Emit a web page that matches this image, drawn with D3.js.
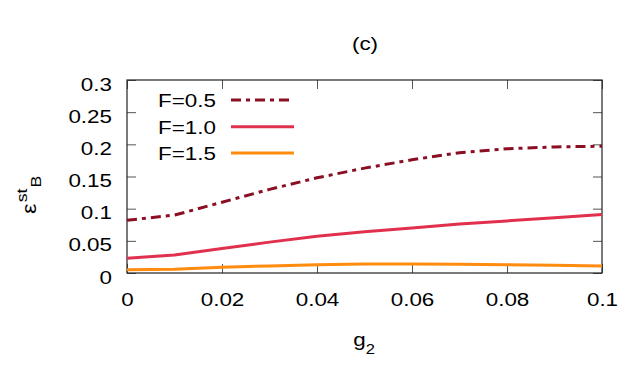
<!DOCTYPE html>
<html><head><meta charset="utf-8">
<script src="https://cdn.jsdelivr.net/npm/d3@7"></script>
<style>body{margin:0;background:#fff;} text{font-family:"Liberation Sans",Arial,sans-serif;}</style>
</head><body>
<svg id="c" width="643" height="386"></svg>
<script>
const g2 = [0, 0.01, 0.02, 0.03, 0.04, 0.05, 0.06, 0.07, 0.08, 0.09, 0.1];
const eF05 = [0.082, 0.090, 0.110, 0.130, 0.148, 0.163, 0.176, 0.187, 0.193, 0.196, 0.197];
const eF10 = [0.023, 0.028, 0.038, 0.048, 0.057, 0.064, 0.070, 0.076, 0.081, 0.086, 0.091];
const eF15 = [0.005, 0.006, 0.009, 0.011, 0.013, 0.014, 0.014, 0.0135, 0.013, 0.012, 0.011];
const seriesNames = ["F=0.5", "F=1.0", "F=1.5"];
const xTicks = [0, 0.02, 0.04, 0.06, 0.08, 0.1];
const xTickLabels = ["0", "0.02", "0.04", "0.06", "0.08", "0.1"];
const yTicks = [0, 0.05, 0.1, 0.15, 0.2, 0.25, 0.3];
const yTickLabels = ["0", "0.05", "0.1", "0.15", "0.2", "0.25", "0.3"];

const svg = d3.select("#c");
const L = 127, R = 602, T = 80, B = 273;
const x = d3.scaleLinear().domain([0, 0.1]).range([L, R]);
const y = d3.scaleLinear().domain([0, 0.3]).range([B, T]);
const axisColor = "#222";
const fs = 19, sx = 1.18;
const tl = 9;

const gx = svg.append("g").attr("transform", `translate(0,${B})`)
  .call(d3.axisBottom(x).tickValues(xTicks).tickFormat((d,i)=>xTickLabels[i]).tickSizeInner(-tl).tickSizeOuter(0).tickPadding(20));
const gxt = svg.append("g").attr("transform", `translate(0,${T})`)
  .call(d3.axisTop(x).tickValues(xTicks).tickFormat("").tickSizeInner(-tl).tickSizeOuter(0));
const gy = svg.append("g").attr("transform", `translate(${L},0)`)
  .call(d3.axisLeft(y).tickValues(yTicks).tickFormat((d,i)=>yTickLabels[i]).tickSizeInner(-tl).tickSizeOuter(0).tickPadding(15));
const gyr = svg.append("g").attr("transform", `translate(${R},0)`)
  .call(d3.axisRight(y).tickValues(yTicks).tickFormat("").tickSizeInner(-tl).tickSizeOuter(0));
[gx, gxt, gy, gyr].forEach(g => {
  g.select(".domain").remove();
  g.selectAll("line").attr("stroke", "#555").attr("stroke-width", 1);
  g.selectAll("text").attr("font-size", fs).attr("fill", "#000").style("font-family", '"Liberation Sans", Arial, sans-serif');
});
gy.selectAll("text").attr("x", -15/sx).attr("dy", 10).attr("transform", `scale(${sx},1)`);
gx.selectAll("text").attr("transform", `scale(${sx},1)`);

svg.append("rect").attr("x", L).attr("y", T).attr("width", R-L).attr("height", B-T)
  .attr("fill", "none").attr("stroke", axisColor).attr("stroke-width", 1.2);

const colors = ["#8b0f23", "#e0304e", "#ff8c0f"];
const dashes = ["10,5,4,5", null, null];
const data = [eF05, eF10, eF15];
const line = d3.line().x((d,i)=>x(g2[i])).y(d=>y(d));
data.forEach((s, k) => {
  const p = svg.append("path").datum(s).attr("d", line).attr("fill", "none")
    .attr("stroke", colors[k]).attr("stroke-width", 3);
  if (dashes[k]) p.attr("stroke-dasharray", dashes[k]);
});

function stext(px, py, anchor, size) {
  return svg.append("text").attr("transform", `translate(${px},${py}) scale(${sx},1)`)
    .attr("text-anchor", anchor).attr("font-size", size);
}

// legend
const legY = [100, 126.7, 153];
seriesNames.forEach((n, k) => {
  stext(216, legY[k] + 6.8, "end", fs).text(n);
  const l = svg.append("line").attr("x1", 231).attr("x2", 294).attr("y1", legY[k]).attr("y2", legY[k])
    .attr("stroke", colors[k]).attr("stroke-width", 3);
  if (dashes[k]) l.attr("stroke-dasharray", dashes[k]);
});

// title
stext(365, 50, "middle", fs).text("(c)");
// x label
const xl = stext(364, 346, "middle", fs);
xl.append("tspan").text("g");
xl.append("tspan").attr("font-size", 14).attr("dy", 8).text("2");
// y label
const yl = svg.append("text").attr("transform", `translate(36,214) rotate(-90) scale(${sx},1)`)
  .attr("text-anchor", "start").attr("font-size", 20);
yl.append("tspan").text("ε");
yl.append("tspan").attr("font-size", 15).attr("dy", -9).attr("dx", 1).text("st");
yl.append("tspan").attr("font-size", 15).attr("dy", 14).attr("dx", 1).text("B");
</script>
</body></html>
